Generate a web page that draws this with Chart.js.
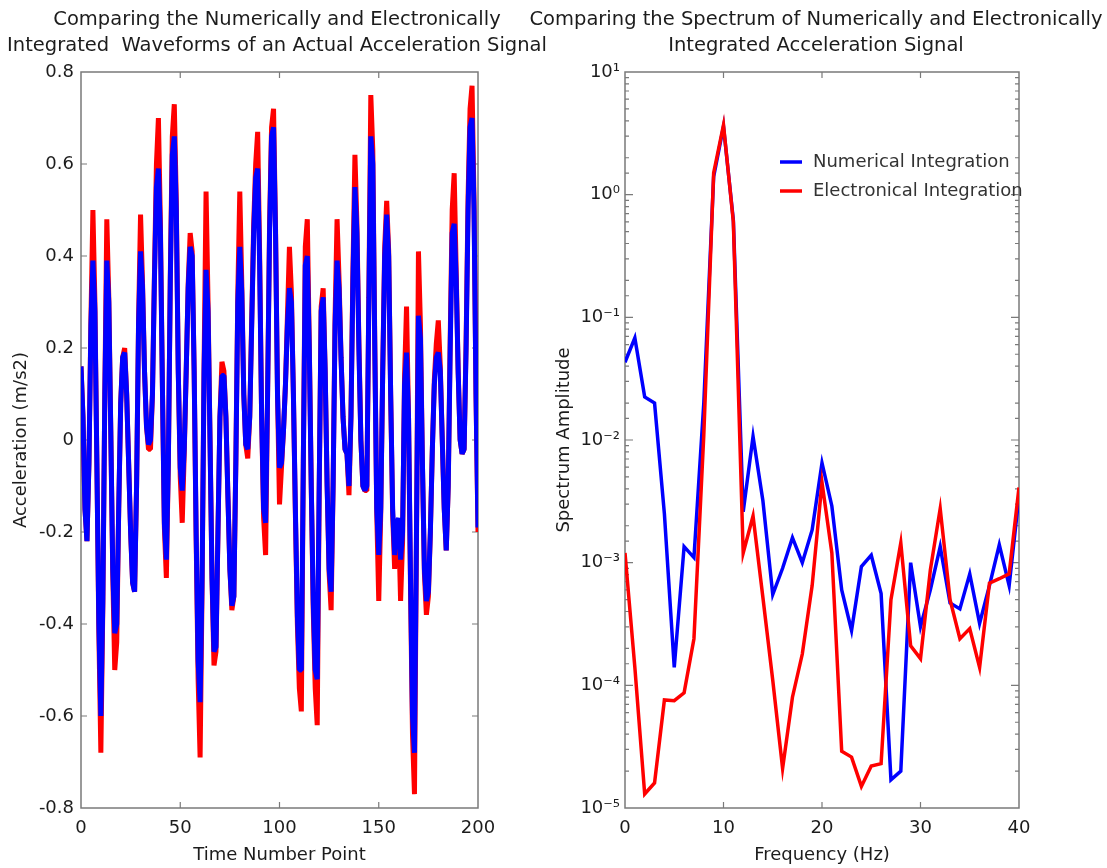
<!DOCTYPE html>
<html>
<head>
<meta charset="utf-8">
<title>Numerical vs Electronical Integration</title>
<script src="https://cdn.jsdelivr.net/npm/chart.js@4.4.1/dist/chart.umd.min.js"></script>
<style>
    html, body { margin: 0; padding: 0; background: #fff; }
    #wrap { position: relative; width: 1107px; height: 868px; overflow: hidden; }
    canvas { position: absolute; top: 0; }
    #waveChart { left: 0; }
    #specChart { left: 500px; }
</style>
</head>
<body>
<div id="wrap">
    <canvas id="waveChart" width="553" height="868"></canvas>
    <canvas id="specChart" width="607" height="868"></canvas>
</div>
<script>
// ---- waveform data (time sample index 0..200) ----
const numericalWave = [
    0.16, 0.05, -0.15, -0.22, -0.05, 0.25, 0.39, 0.28, -0.05, -0.40,
    -0.60, -0.35, 0.10, 0.39, 0.30, 0.02, -0.28, -0.42, -0.40, -0.15,
    0.08, 0.18, 0.19, 0.10, -0.05, -0.20, -0.31, -0.33, -0.10, 0.25,
    0.41, 0.33, 0.15, 0.03, -0.01, 0.00, 0.10, 0.35, 0.55, 0.59,
    0.45, 0.12, -0.18, -0.26, -0.05, 0.35, 0.62, 0.66, 0.50, 0.15,
    -0.06, -0.11, -0.02, 0.15, 0.33, 0.42, 0.40, 0.15, -0.20, -0.48,
    -0.57, -0.30, 0.15, 0.37, 0.28, 0.00, -0.30, -0.46, -0.45, -0.20,
    0.05, 0.14, 0.14, 0.05, -0.12, -0.28, -0.36, -0.34, -0.05, 0.30,
    0.42, 0.32, 0.10, -0.01, -0.02, 0.05, 0.25, 0.45, 0.57, 0.59,
    0.38, 0.05, -0.15, -0.18, 0.10, 0.45, 0.66, 0.68, 0.45, 0.10,
    -0.06, -0.05, 0.02, 0.12, 0.25, 0.33, 0.30, 0.10, -0.15, -0.38,
    -0.50, -0.50, -0.05, 0.38, 0.40, 0.20, -0.10, -0.35, -0.50, -0.52,
    -0.10, 0.28, 0.31, 0.15, -0.10, -0.28, -0.33, -0.10, 0.25, 0.39,
    0.33, 0.18, 0.05, -0.02, -0.03, -0.10, 0.05, 0.35, 0.55, 0.45,
    0.20, 0.00, -0.10, -0.11, -0.10, 0.30, 0.66, 0.60, 0.20, -0.15,
    -0.25, -0.15, 0.15, 0.40, 0.49, 0.40, 0.10, -0.15, -0.25, -0.18,
    -0.17, -0.26, -0.20, 0.12, 0.19, 0.05, -0.30, -0.60, -0.68, -0.20,
    0.27, 0.22, -0.05, -0.28, -0.35, -0.33, -0.20, -0.02, 0.12, 0.18,
    0.19, 0.15, 0.00, -0.15, -0.24, -0.10, 0.20, 0.45, 0.47, 0.35,
    0.15, 0.00, -0.03, -0.02, 0.20, 0.50, 0.68, 0.70, 0.50, 0.10,
    -0.19
];

const electronicalWave = [
    0.16, 0.05, -0.15, -0.22, -0.05, 0.26, 0.50, 0.30, -0.05, -0.42,
    -0.68, -0.36, 0.10, 0.48, 0.31, 0.02, -0.29, -0.50, -0.44, -0.15,
    0.08, 0.18, 0.20, 0.10, -0.05, -0.20, -0.31, -0.33, -0.10, 0.26,
    0.49, 0.34, 0.15, 0.03, -0.02, -0.02, 0.10, 0.36, 0.60, 0.70,
    0.47, 0.12, -0.19, -0.30, -0.05, 0.36, 0.66, 0.73, 0.52, 0.15,
    -0.08, -0.18, -0.03, 0.15, 0.34, 0.45, 0.41, 0.15, -0.21, -0.52,
    -0.69, -0.32, 0.16, 0.54, 0.30, 0.00, -0.30, -0.49, -0.46, -0.20,
    0.05, 0.17, 0.15, 0.05, -0.12, -0.28, -0.37, -0.34, -0.05, 0.32,
    0.54, 0.34, 0.10, -0.01, -0.04, 0.05, 0.26, 0.47, 0.60, 0.67,
    0.40, 0.05, -0.17, -0.25, 0.10, 0.47, 0.68, 0.72, 0.46, 0.10,
    -0.14, -0.06, 0.02, 0.12, 0.27, 0.42, 0.32, 0.10, -0.16, -0.40,
    -0.54, -0.59, -0.05, 0.42, 0.48, 0.21, -0.10, -0.37, -0.54, -0.62,
    -0.11, 0.29, 0.33, 0.15, -0.10, -0.29, -0.37, -0.10, 0.27, 0.48,
    0.35, 0.18, 0.05, -0.02, -0.03, -0.12, 0.05, 0.37, 0.62, 0.47,
    0.21, 0.00, -0.10, -0.11, -0.11, 0.31, 0.75, 0.63, 0.21, -0.16,
    -0.35, -0.16, 0.15, 0.42, 0.52, 0.41, 0.10, -0.16, -0.28, -0.19,
    -0.18, -0.35, -0.22, 0.14, 0.29, 0.05, -0.32, -0.64, -0.77, -0.22,
    0.41, 0.25, -0.05, -0.29, -0.38, -0.34, -0.20, -0.02, 0.13, 0.21,
    0.26, 0.16, 0.00, -0.15, -0.24, -0.10, 0.22, 0.50, 0.58, 0.37,
    0.15, 0.00, -0.03, -0.02, 0.21, 0.53, 0.72, 0.77, 0.52, 0.10,
    -0.20
];

// ---- spectrum data (frequency 0..40 Hz, 1 Hz step) ----
const numericalSpectrum = [
    0.043, 0.068, 0.0224, 0.020, 0.0025, 0.00014, 0.00135, 0.0011, 0.02, 1.4,
    3.6, 0.62, 0.0026, 0.0107, 0.0032, 0.00055, 0.0009, 0.0016, 0.0010, 0.00185,
    0.0065, 0.0029, 0.0006, 0.00028, 0.00093, 0.00115, 0.00056, 0.000017, 0.000020, 0.0010,
    0.00030, 0.0006, 0.00135, 0.00047, 0.00042, 0.00081, 0.00032, 0.00065, 0.0014, 0.00065,
    0.0035
];

const electronicalSpectrum = [
    0.0012, 0.00014, 0.000013, 0.000016, 0.000076, 0.000075, 0.000087, 0.00024, 0.011, 1.5,
    3.7, 0.6, 0.0012, 0.0024, 0.00052, 0.00011, 0.000021, 0.00008, 0.00018, 0.00065,
    0.0045, 0.0012, 0.000029, 0.000026, 0.000015, 0.000022, 0.000023, 0.0005, 0.00145, 0.00021,
    0.000165, 0.00087, 0.00276, 0.0005, 0.00024, 0.00029, 0.00014, 0.00068, 0.00074, 0.00081,
    0.0041
];

const timePoints = numericalWave.map((_, i) => i);
const frequencies = numericalSpectrum.map((_, i) => i);

const waveTitle = ["Comparing the Numerically and Electronically",
                   "Integrated  Waveforms of an Actual Acceleration Signal"];
const specTitle = ["Comparing the Spectrum of Numerically and Electronically",
                   "Integrated Acceleration Signal"];

const FONT = '"DejaVu Sans", "Liberation Sans", Arial, sans-serif';
const TEXT_COLOR = "#1c1c1c";
const FRAME_COLOR = "#7a7a7a";

Chart.defaults.font.family = FONT;
Chart.defaults.font.size = 18;
Chart.defaults.color = TEXT_COLOR;

const SUPERSCRIPT = { "-": "\u207B", "0": "\u2070", "1": "\u00B9", "2": "\u00B2",
    "3": "\u00B3", "4": "\u2074", "5": "\u2075", "6": "\u2076" };

/**
 * Pairs an x array with a y array for a linear x axis
 */
function toPoints(xs, ys) {
    return xs.map((x, i) => ({ x: x, y: ys[i] }));
}

/**
 * Draws the plot box with Matlab style inward tick marks, plus the 2-line title
 */
const boxPlugin = {
    id: "boxPlugin",
    beforeDatasetsDraw(chart, args, opts) {
        const { ctx, chartArea: a, scales } = chart;
        ctx.save();
        ctx.strokeStyle = FRAME_COLOR;
        ctx.lineWidth = 1.5;
        ctx.strokeRect(a.left, a.top, a.right - a.left, a.bottom - a.top);
        ctx.lineWidth = 1.2;
        ctx.beginPath();
        scales.x.ticks.forEach((t) => {
            const px = scales.x.getPixelForValue(t.value);
            if (px <= a.left + 1 || px >= a.right - 1) return;
            ctx.moveTo(px, a.bottom);
            ctx.lineTo(px, a.bottom - 6);
            ctx.moveTo(px, a.top);
            ctx.lineTo(px, a.top + 6);
        });
        scales.y.ticks.forEach((t) => {
            const py = scales.y.getPixelForValue(t.value);
            if (py <= a.top + 1 || py >= a.bottom - 1) return;
            let len = 6;
            if (opts.log) {
                const e = Math.log10(t.value);
                len = Math.abs(e - Math.round(e)) < 1e-6 ? 8 : 4;
            }
            ctx.moveTo(a.left, py);
            ctx.lineTo(a.left + len, py);
            ctx.moveTo(a.right, py);
            ctx.lineTo(a.right - len, py);
        });
        ctx.stroke();
        ctx.restore();
    },
    afterDraw(chart, args, opts) {
        const { ctx } = chart;
        ctx.save();
        ctx.fillStyle = TEXT_COLOR;
        ctx.font = "19.5px " + FONT;
        ctx.textAlign = "center";
        ctx.textBaseline = "middle";
        opts.title.forEach((line, i) => {
            ctx.fillText(line, opts.titleX, 20 + i * 26);
        });
        ctx.restore();
    },
};

/**
 * Legend drawn inside the spectrum plot, without a box
 */
const insideLegend = {
    id: "insideLegend",
    afterDraw(chart) {
        const { ctx, chartArea: a } = chart;
        const x0 = a.left + 155;
        const y0 = a.top + 90;
        ctx.save();
        ctx.font = "18px " + FONT;
        ctx.textBaseline = "middle";
        ctx.textAlign = "left";
        chart.data.datasets.forEach((ds, i) => {
            const y = y0 + i * 29;
            ctx.strokeStyle = ds.borderColor;
            ctx.lineWidth = 3.5;
            ctx.beginPath();
            ctx.moveTo(x0, y);
            ctx.lineTo(x0 + 22, y);
            ctx.stroke();
            ctx.fillStyle = "#333";
            ctx.fillText(ds.label, x0 + 33, y);
        });
        ctx.restore();
    },
};

function superscriptLabel(value) {
    const e = Math.log10(value);
    const r = Math.round(e);
    if (Math.abs(e - r) > 1e-6) return "";
    return "10" + String(r).split("").map((c) => SUPERSCRIPT[c]).join("");
}

function renderWaveChart(el) {
    new Chart(el.getContext("2d"), {
        type: "line",
        data: {
            datasets: [
                {
                    label: "Numerical Integration",
                    data: toPoints(timePoints, numericalWave),
                    borderColor: "#0000ff",
                    borderWidth: 5,
                    borderJoinStyle: "bevel",
                    pointRadius: 0,
                    tension: 0,
                    order: 0,
                },
                {
                    label: "Electronical Integration",
                    data: toPoints(timePoints, electronicalWave),
                    borderColor: "#ff0000",
                    borderWidth: 5,
                    borderJoinStyle: "bevel",
                    pointRadius: 0,
                    tension: 0,
                    order: 1,
                },
            ],
        },
        options: {
            responsive: false,
            animation: false,
            events: [],
            layout: { padding: { top: 72, right: 75, bottom: 0, left: 0 } },
            scales: {
                x: {
                    type: "linear",
                    min: 0,
                    max: 200,
                    grid: { display: false, drawTicks: false },
                    border: { display: false },
                    ticks: { stepSize: 50, padding: 10, maxRotation: 0 },
                    title: { display: true, text: "Time Number Point", padding: { top: 0, bottom: 2 } },
                    afterFit: (scale) => { scale.height = 60; },
                },
                y: {
                    min: -0.8,
                    max: 0.8,
                    grid: { display: false, drawTicks: false },
                    border: { display: false },
                    ticks: {
                        stepSize: 0.2,
                        padding: 7,
                        callback: (v) => (Math.abs(v) < 1e-9 ? "0" : v.toFixed(1)),
                    },
                    title: { display: true, text: "Acceleration (m/s2)", padding: { top: 11, bottom: 0 } },
                    afterFit: (scale) => { scale.width = 81; },
                },
            },
            plugins: {
                legend: { display: false },
                tooltip: { enabled: false },
                boxPlugin: { title: waveTitle, titleX: 277, log: false },
            },
        },
        plugins: [boxPlugin],
    });
}

function renderSpectrumChart(el) {
    new Chart(el.getContext("2d"), {
        type: "line",
        data: {
            datasets: [
                {
                    label: "Numerical Integration",
                    data: toPoints(frequencies, numericalSpectrum),
                    borderColor: "#0000ff",
                    borderWidth: 3.5,
                    pointRadius: 0,
                    tension: 0,
                    order: 1,
                },
                {
                    label: "Electronical Integration",
                    data: toPoints(frequencies, electronicalSpectrum),
                    borderColor: "#ff0000",
                    borderWidth: 3.5,
                    pointRadius: 0,
                    tension: 0,
                    order: 0,
                },
            ],
        },
        options: {
            responsive: false,
            animation: false,
            events: [],
            layout: { padding: { top: 72, right: 88, bottom: 0, left: 0 } },
            scales: {
                x: {
                    type: "linear",
                    min: 0,
                    max: 40,
                    grid: { display: false, drawTicks: false },
                    border: { display: false },
                    ticks: { stepSize: 10, padding: 10, maxRotation: 0 },
                    title: { display: true, text: "Frequency (Hz)", padding: { top: 0, bottom: 2 } },
                    afterFit: (scale) => { scale.height = 60; },
                },
                y: {
                    type: "logarithmic",
                    min: 1e-5,
                    max: 10,
                    grid: { display: false, drawTicks: false },
                    border: { display: false },
                    ticks: { autoSkip: false, padding: 5, callback: superscriptLabel },
                    title: { display: true, text: "Spectrum Amplitude", padding: { top: 54, bottom: 0 } },
                    afterFit: (scale) => { scale.width = 125; },
                },
            },
            plugins: {
                legend: { display: false },
                tooltip: { enabled: false },
                boxPlugin: { title: specTitle, titleX: 316, log: true },
            },
        },
        plugins: [boxPlugin, insideLegend],
    });
}

renderWaveChart(document.getElementById("waveChart"));
renderSpectrumChart(document.getElementById("specChart"));
</script>
</body>
</html>
